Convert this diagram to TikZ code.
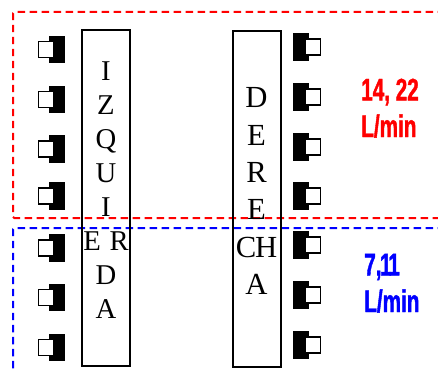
\documentclass[tikz,border=0pt]{standalone}
\usepackage{fontspec}
\setmainfont{Liberation Serif}
\newfontfamily\caudalfont[FakeStretch=0.66,FakeBold=1.2]{Liberation Sans Bold}
\usetikzlibrary{
	positioning,
	backgrounds
}
\definecolor{main}{RGB}{0,0,255}
\definecolor{second}{RGB}{255,0,0}
\tikzset{
	% zone
	cstzone/.style     ={line width=1.5pt, dash pattern=on 5.6pt off 3.4pt, rounded corners=1pt},
	% box
	cstbox/.style      ={draw=black, line width=1.5pt, minimum width=36pt, inner sep=0pt},
	cstletra/.style    ={align=center, inner sep=0pt, font=\fontsize{21.5pt}{25.5pt}\selectfont},
	% salida
	cstnegro/.style    ={fill=black, draw=none, minimum width=12pt, minimum height=20.5pt, inner sep=0pt},
	cstblanco/.style   ={fill=white, draw=black, line width=1.25pt, minimum width=11.2pt, minimum height=12pt, inner sep=0pt},
	% caudal
	csttexto/.style    ={font=\caudalfont\fontsize{23.5pt}{24pt}\selectfont, align=left, anchor=west, inner sep=0pt}
}
\begin{document}
\begin{tikzpicture}[x=.75pt,y=-.75pt]
	\useasboundingbox (0,0) rectangle (438,370);
	% zonas
	\draw[cstzone,second] (445,12)--(13,12)--(13,218)--(445,218);
	\draw[cstzone,main] (445,228)--(13,228)--(13,375);
	% columnas
	\node[cstbox,minimum height=252pt] (izq) at (106,198) {};
	\node[cstbox,minimum height=252pt] (der) at (256.5,199) {};
	\node[cstletra] (izqtxt) at (106,190) {I\\Z\\Q\\U\\I\\E\hspace{.3em}R\\D\\A};
	\node[cstletra,font=\fontsize{23pt}{28pt}\selectfont] (dertxt) at (256.5,191) {D\\E\\R\\E\\C\hspace{-.04em}H\\A};
	% salidas izquierda
	\foreach \n/\y in {1/49.5,2/99.5,3/149,4/196,5/248,6/297.5,7/347.5}{
		\node[cstnegro] (ni\n) at (57,\y) {};
		\node[cstblanco] (bi\n) at (46,\y) {};
	}
	% salidas derecha
	\foreach \n/\y in {1/47,2/97,3/147,4/196,5/245,6/295,7/345}{
		\node[cstnegro] (nd\n) at (301,\y) {};
		\node[cstblanco] (bd\n) at (313,\y) {};
	}
	% caudales
	\node[csttexto,second] (rojo1) at (361,92) {14, 22};
	\node[csttexto,second] (rojo2) at (361,126) {L/min};
	\node[csttexto,main] (azul1) at (364,267) {7,\hspace{-.05em}1\hspace{-.1em}1};
	\node[csttexto,main] (azul2) at (364,301) {L/min};
\end{tikzpicture}
\end{document}
